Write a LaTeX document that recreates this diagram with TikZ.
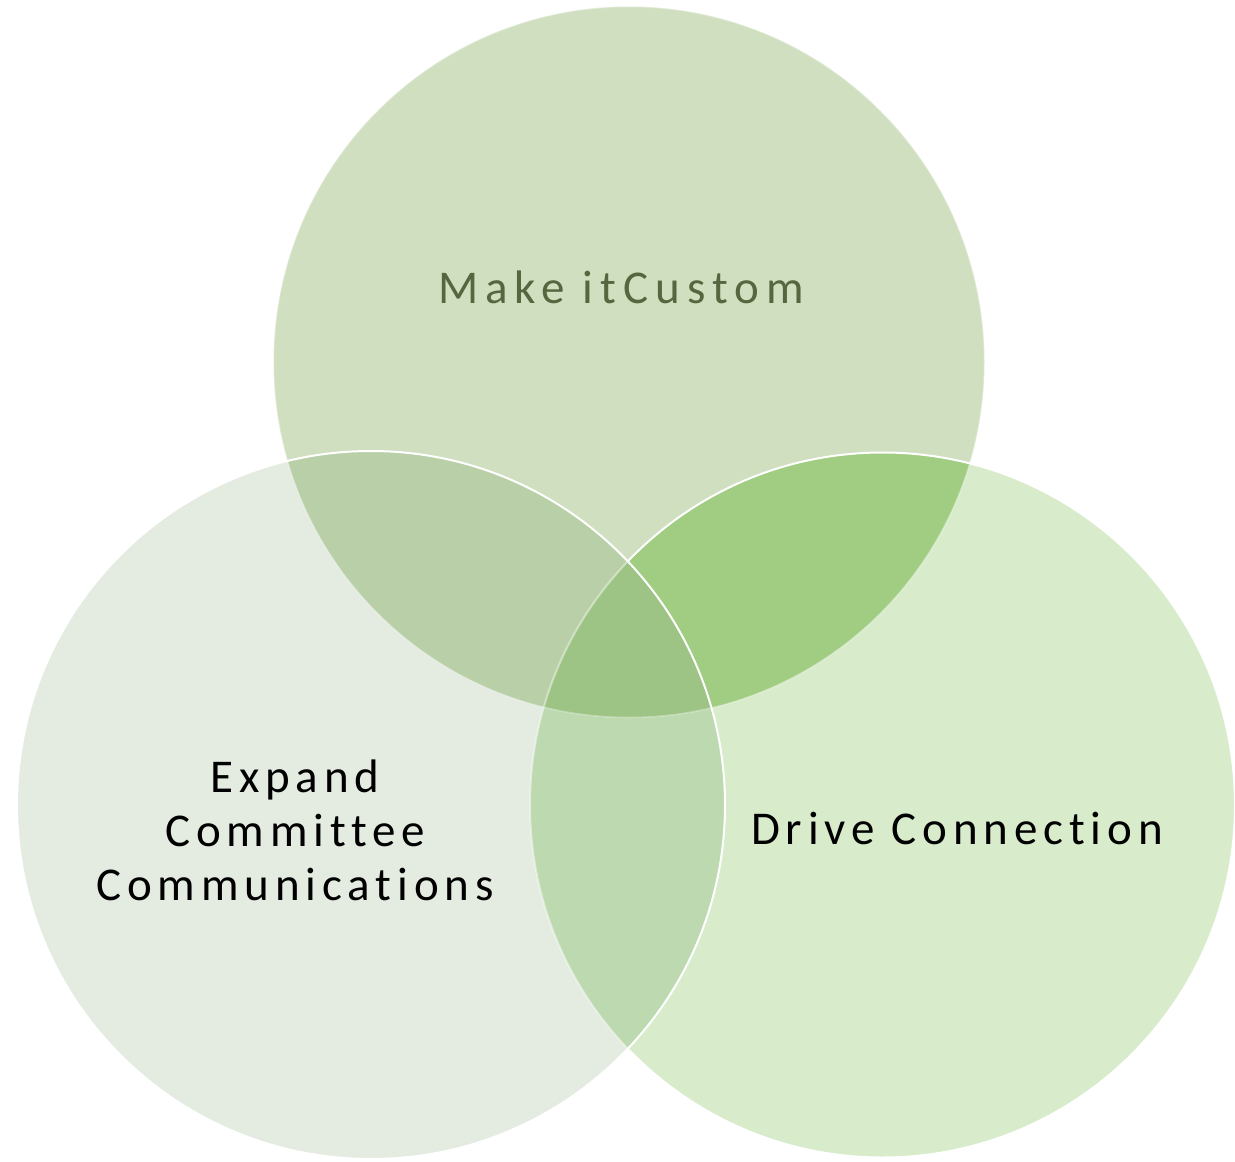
\documentclass[tikz,border=0pt]{standalone}
\usepackage{fontspec}
\newfontfamily\lbl{Carlito}[LetterSpace=15, Ligatures={NoCommon}, RawFeature={-liga}]
\newfontfamily\lblnarrow{Carlito}[LetterSpace=12.5, Ligatures={NoCommon}, RawFeature={-liga}]
\definecolor{topc}{HTML}{D1DFC1}
\definecolor{leftc}{HTML}{E4EBE1}
\definecolor{rightc}{HTML}{D8ECCC}
\definecolor{tlc}{HTML}{B8CFA8}
\definecolor{trc}{HTML}{A0CD81}
\definecolor{lrc}{HTML}{BCD9B0}
\definecolor{allc}{HTML}{9DC385}
\definecolor{toptext}{HTML}{55673F}
\tikzset{
  label/.style={font=\lbl\fontsize{47}{54}\selectfont, align=center, inner sep=0pt},
  narrowlabel/.style={label, font=\lblnarrow\fontsize{47}{54}\selectfont},
  rim/.style={draw=white, line width=2pt}
}
\begin{document}
\begin{tikzpicture}[x=1pt,y=-1pt]
\useasboundingbox (0,0) rectangle (1235,1162);
\coordinate (T) at (629,362);
\coordinate (L) at (371,805);
\coordinate (R) at (882.5,805);
\def\rT{355.5}\def\rL{354}\def\rR{352.5}
% base circles
\fill[topc] (T) circle (\rT);
\fill[leftc] (L) circle (\rL);
\fill[rightc] (R) circle (\rR);
% left-right overlap
\begin{scope}
  \clip (L) circle (\rL);
  \fill[lrc] (R) circle (\rR);
\end{scope}
% overlaps with top
\begin{scope}
  \clip (T) circle (\rT);
  \fill[tlc] (L) circle (\rL);
  \fill[trc] (R) circle (\rR);
  \clip (L) circle (\rL);
  \fill[allc] (R) circle (\rR);
\end{scope}
% outlines
\draw[draw=white, line width=1.5pt, opacity=0.35] (T) circle (\rT);
\begin{scope}[even odd rule]
  \clip (0,0) rectangle (1235,1162) (L) circle (\rL);
  \draw[rim] (R) circle (\rR);
\end{scope}
\begin{scope}
  \clip (L) circle (\rL);
  \draw[rim, opacity=0.45] (R) circle (\rR);
\end{scope}
\draw[rim] (L) circle (\rL);
% labels
\node[label, text=toptext] (custom) at (621,287) {Make itCustom};
\node[narrowlabel, text=black] (expand) at (295,830) {Expand\\Committee\\Communications};
\node[narrowlabel, text=black] (drive) at (957,828) {Drive Connection};
\end{tikzpicture}
\end{document}
